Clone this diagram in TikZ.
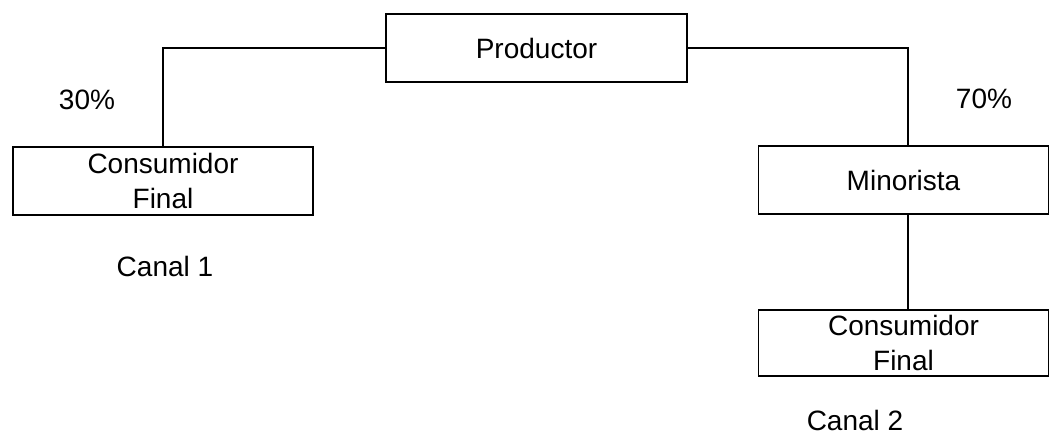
\documentclass[tikz,border=0pt]{standalone}
\usepackage{fontspec}
\setmainfont{Liberation Sans}
\begin{document}
\begin{tikzpicture}[x=1pt,y=-1pt,
  box/.style={draw,line width=1.4pt,minimum width=#1,minimum height=68pt,inner sep=0pt,align=center,font=\fontsize{28}{35}\selectfont},
  lbl/.style={font=\fontsize{28}{35}\selectfont,inner sep=0pt},
  conn/.style={line width=1.4pt}]
\useasboundingbox (0,0) rectangle (1049,436);
\node[box=301pt] (prod) at (536.5,48) {Productor};
\node[box=300pt] (cf1) at (163,181) {Consumidor\\Final};
\node[box=290pt] (min) at (903.5,180) {Minorista};
\node[box=290pt,minimum height=66pt] (cf2) at (903.5,343) {Consumidor\\Final};
\coordinate (rc) at (908,0);
\draw[conn] (prod.west) -| (cf1.north);
\draw[conn] (prod.east) -| (rc |- min.north);
\draw[conn] (rc |- min.south) -- (rc |- cf2.north);
\node[lbl] (p30) at (87,100) {30\%};
\node[lbl] (p70) at (984,99) {70\%};
\node[lbl] (c1) at (165,266) {Canal 1};
\node[lbl] (c2) at (855,420) {Canal 2};
\end{tikzpicture}
\end{document}
